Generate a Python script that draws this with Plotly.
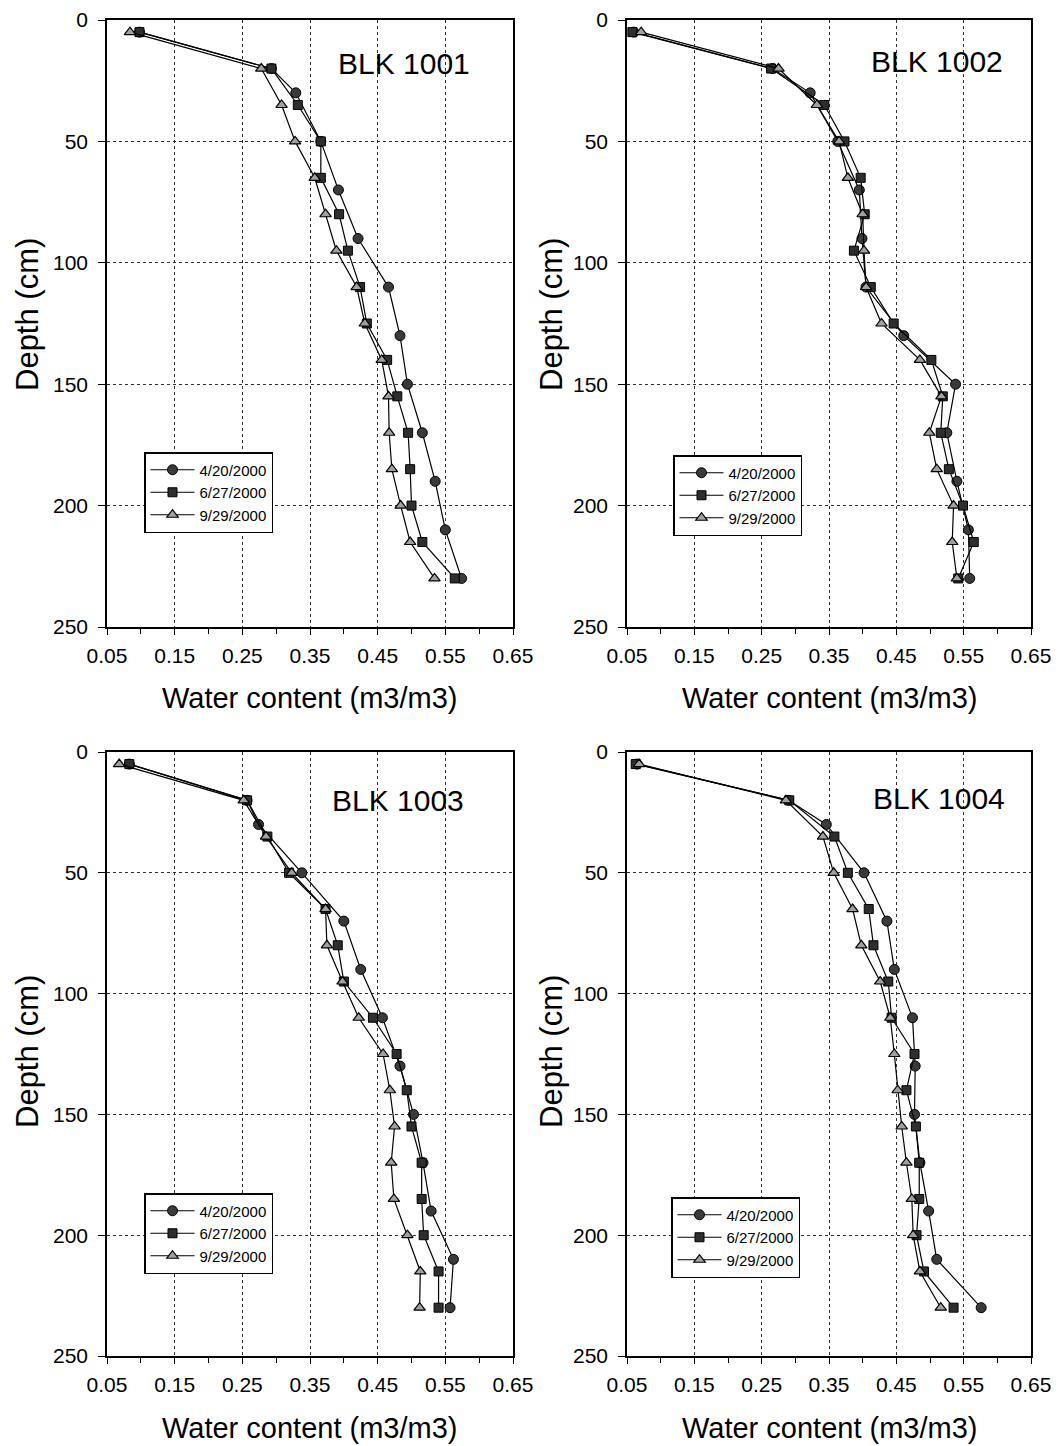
import plotly.graph_objects as go

# ---------------- data ----------------
dates = ["4/20/2000", "6/27/2000", "9/29/2000"]
blocks = ["BLK 1001", "BLK 1002", "BLK 1003", "BLK 1004"]

depth_apr = [5, 20, 30, 50, 70, 90, 110, 130, 150, 170, 190, 210, 230]
depth_jun = [5, 20, 35, 50, 65, 80, 95, 110, 125, 140, 155, 170, 185, 200, 215, 230]
depth_sep = [5, 20, 35, 50, 65, 80, 95, 110, 125, 140, 155, 170, 185, 200, 215, 230]

# BLK 1001
b1_apr = [0.098, 0.293, 0.329, 0.366, 0.392, 0.421, 0.466, 0.483, 0.494, 0.516, 0.535, 0.550, 0.574]
b1_jun = [0.098, 0.293, 0.332, 0.366, 0.366, 0.393, 0.406, 0.424, 0.434, 0.464, 0.479, 0.495, 0.498, 0.500, 0.516, 0.564]
b1_sep = [0.084, 0.278, 0.308, 0.328, 0.357, 0.373, 0.389, 0.419, 0.431, 0.456, 0.466, 0.467, 0.471, 0.484, 0.498, 0.534]

# BLK 1002
b2_apr = [0.060, 0.266, 0.322, 0.363, 0.395, 0.399, 0.405, 0.461, 0.538, 0.525, 0.540, 0.557, 0.559]
b2_jun = [0.058, 0.264, 0.343, 0.373, 0.397, 0.403, 0.387, 0.412, 0.446, 0.502, 0.519, 0.516, 0.528, 0.549, 0.565, 0.542]
b2_sep = [0.071, 0.275, 0.332, 0.365, 0.378, 0.400, 0.402, 0.405, 0.428, 0.485, 0.517, 0.499, 0.510, 0.535, 0.533, 0.540]

# BLK 1003
b3_apr = [0.083, 0.257, 0.274, 0.338, 0.400, 0.425, 0.457, 0.483, 0.503, 0.517, 0.529, 0.562, 0.557]
b3_jun = [0.083, 0.257, 0.287, 0.319, 0.373, 0.391, 0.400, 0.443, 0.478, 0.493, 0.500, 0.515, 0.515, 0.518, 0.540, 0.540]
b3_sep = [0.068, 0.252, 0.285, 0.323, 0.373, 0.375, 0.398, 0.422, 0.458, 0.468, 0.475, 0.470, 0.474, 0.494, 0.513, 0.512]

# BLK 1004
b4_apr = [0.065, 0.290, 0.346, 0.402, 0.436, 0.447, 0.474, 0.478, 0.477, 0.485, 0.498, 0.510, 0.576]
b4_jun = [0.063, 0.291, 0.358, 0.378, 0.409, 0.416, 0.438, 0.443, 0.477, 0.465, 0.479, 0.484, 0.484, 0.480, 0.491, 0.535]
b4_sep = [0.068, 0.286, 0.341, 0.357, 0.385, 0.398, 0.426, 0.441, 0.447, 0.452, 0.458, 0.465, 0.473, 0.475, 0.485, 0.516]

x_ticks = [0.05, 0.15, 0.25, 0.35, 0.45, 0.55, 0.65]
x_minor = [0.1, 0.2, 0.3, 0.4, 0.5, 0.6]
y_ticks = [0, 50, 100, 150, 200, 250]

panel_values = [
    (b1_apr, b1_jun, b1_sep),
    (b2_apr, b2_jun, b2_sep),
    (b3_apr, b3_jun, b3_sep),
    (b4_apr, b4_jun, b4_sep),
]
depth_sets = [depth_apr, depth_jun, depth_sep]

# ---------------- layout geometry ----------------
W, H = 1059, 1446
FONT = "Liberation Sans, Arial, sans-serif"

def px2x(p):
    return p / W

def px2y(p):
    return 1 - p / H

x_domains = [(107, 513), (627, 1031), (107, 513), (627, 1031)]
y_domains = [(20, 627), (20, 627), (752, 1356), (752, 1356)]

markers = [
    dict(symbol="circle", size=10, color="#3a3a3a", line=dict(color="black", width=1)),
    dict(symbol="square", size=9, color="#2e2e2e", line=dict(color="black", width=1)),
    dict(symbol="triangle-up", size=10, color="#a0a0a0", line=dict(color="black", width=1.2)),
]

fig = go.Figure()

for i in range(4):
    ax = "" if i == 0 else str(i + 1)
    leg = "legend" if i == 0 else f"legend{i + 1}"
    for k in range(3):
        fig.add_trace(go.Scatter(
            x=panel_values[i][k], y=depth_sets[k],
            mode="lines+markers", name=dates[k],
            line=dict(color="black", width=1.2),
            marker=markers[k],
            xaxis="x" + ax, yaxis="y" + ax,
            legend=leg, showlegend=True,
        ))

layout = dict(
    template="none",
    width=W, height=H,
    margin=dict(l=0, r=0, t=0, b=0, pad=0),
    paper_bgcolor="white", plot_bgcolor="white",
    font=dict(family=FONT, color="black"),
)

legend_pos = [(144, 452), (673, 455), (144, 1193), (671, 1197)]
for i in range(4):
    ax = "" if i == 0 else str(i + 1)
    xd, yd = x_domains[i], y_domains[i]
    layout["xaxis" + ax] = dict(
        domain=[px2x(xd[0]), px2x(xd[1])],
        range=[0.05, 0.65], tickvals=x_ticks, ticktext=[f"{v:.2f}" for v in x_ticks],
        anchor="y" + ax, automargin=False,
        showline=True, mirror=True, linecolor="black", linewidth=1.5,
        ticks="outside", ticklen=6, tickwidth=1.2, tickcolor="black",
        ticklabelstandoff=3,
        minor=dict(tickvals=x_minor, ticks="outside", ticklen=5, tickcolor="black", showgrid=False),
        showgrid=True, gridcolor="#333333", griddash="dot", gridwidth=1,
        zeroline=False, tickfont=dict(size=21, family=FONT, color="black"),
        fixedrange=True,
    )
    layout["yaxis" + ax] = dict(
        domain=[px2y(yd[1]), px2y(yd[0])],
        range=[250, 0], tickvals=y_ticks,
        anchor="x" + ax, automargin=False,
        showline=True, mirror=True, linecolor="black", linewidth=1.5,
        ticks="outside", ticklen=7, tickwidth=1.2, tickcolor="black",
        ticklabelstandoff=6,
        showgrid=True, gridcolor="#333333", griddash="dot", gridwidth=1,
        zeroline=False, tickfont=dict(size=21, family=FONT, color="black"),
        fixedrange=True,
    )
    lx, ly = legend_pos[i]
    layout["legend" if i == 0 else f"legend{i + 1}"] = dict(
        x=px2x(lx), y=px2y(ly), xanchor="left", yanchor="top",
        bgcolor="white", bordercolor="black", borderwidth=1.5,
        font=dict(size=15, family=FONT, color="black"),
        tracegroupgap=0, itemwidth=44,
    )

fig.update_layout(**layout)

# titles and block labels as annotations
xt_centers = [(309, 698), (829, 698), (309, 1428), (829, 1428)]
yt_centers = [(27, 315), (551, 315), (27, 1052), (551, 1052)]
blk_centers = [(404, 64), (937, 62), (398, 800), (939, 798)]
for i in range(4):
    cx, cy = xt_centers[i]
    fig.add_annotation(text="Water content (m3/m3)", x=px2x(cx), y=px2y(cy), xref="paper", yref="paper",
                       showarrow=False, xanchor="center", yanchor="middle",
                       font=dict(size=29, family=FONT, color="black"))
    cx, cy = yt_centers[i]
    fig.add_annotation(text="Depth (cm)", x=px2x(cx), y=px2y(cy), xref="paper", yref="paper",
                       showarrow=False, xanchor="center", yanchor="middle", textangle=-90,
                       font=dict(size=31, family=FONT, color="black"))
    cx, cy = blk_centers[i]
    fig.add_annotation(text=blocks[i], x=px2x(cx), y=px2y(cy), xref="paper", yref="paper",
                       showarrow=False, xanchor="center", yanchor="middle",
                       font=dict(size=30, family=FONT, color="black"))

fig.write_html("out.html", config={"displayModeBar": False},
               post_script="document.body.style.margin='0';")
